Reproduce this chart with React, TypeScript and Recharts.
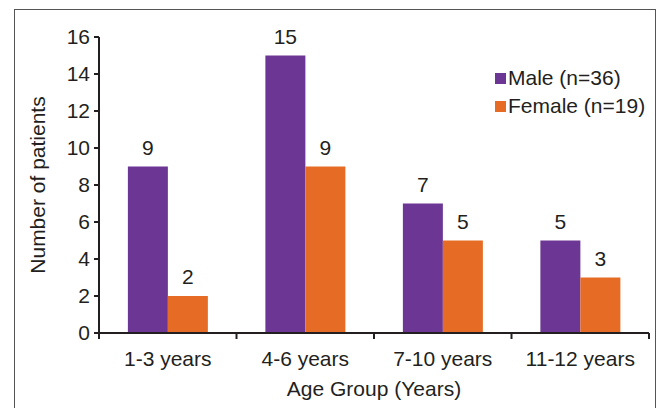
import React from "react";
import { BarChart, Bar, XAxis, YAxis, LabelList } from "recharts";

const categories = ["1-3 years", "4-6 years", "7-10 years", "11-12 years"];
const maleValues = [9, 15, 7, 5];
const femaleValues = [2, 9, 5, 3];
const yTicks = [0, 2, 4, 6, 8, 10, 12, 14, 16];
const seriesNames = { male: "Male (n=36)", female: "Female (n=19)" };

const data = categories.map((c, i) => ({ name: c, male: maleValues[i], female: femaleValues[i] }));

const PURPLE = "#6C3794";
const ORANGE = "#E66C26";
const TEXT = "#231F20";
const FONT = "'Liberation Sans', Arial, sans-serif";
const FS = 21;
const X_TICK_SIZE = 6;
const X_TICK_MARGIN = 12;

const XTick = (props: any) => {
  const { x, y, payload, index } = props;
  const half = payload && typeof payload.offset === "number" && payload.offset > 0 ? payload.offset : 68.75;
  const axisY = y - X_TICK_SIZE - X_TICK_MARGIN;
  return (
    <g>
      <line x1={x - half} x2={x - half} y1={axisY} y2={axisY + X_TICK_SIZE} stroke={TEXT} strokeWidth={2} />
      {index === categories.length - 1 && (
        <line x1={x + half} x2={x + half} y1={axisY} y2={axisY + X_TICK_SIZE} stroke={TEXT} strokeWidth={2} />
      )}
      <text x={x} y={y} dy="0.71em" textAnchor="middle" fill={TEXT} fontSize={FS} fontFamily={FONT}>
        {payload.value}
      </text>
    </g>
  );
};

const LegendBox = () => (
  <div
    style={{
      position: "absolute",
      left: 495,
      top: 64,
      fontFamily: FONT,
      fontSize: FS,
      color: TEXT,
      lineHeight: "28px",
      whiteSpace: "nowrap",
    }}
  >
    {[
      { c: PURPLE, t: seriesNames.male },
      { c: ORANGE, t: seriesNames.female },
    ].map((it) => (
      <div key={it.t} style={{ display: "flex", alignItems: "center", height: 28 }}>
        <span style={{ display: "inline-block", width: 11, height: 11, background: it.c, marginRight: 2 }} />
        <span>{it.t}</span>
      </div>
    ))}
  </div>
);

export default function App() {
  return (
    <div style={{ position: "absolute", left: 0, top: 0, width: 660, height: 408, background: "#fff", overflow: "hidden" }}>
      <div
        style={{
          position: "absolute",
          left: 14,
          top: 9,
          width: 642,
          height: 410,
          border: "1.5px solid #555",
          boxSizing: "border-box",
        }}
      />
      <BarChart
        width={660}
        height={408}
        data={data}
        margin={{ top: 37, right: 11, bottom: 15, left: 0 }}
        barCategoryGap="21%"
        barGap={0}
        style={{ position: "absolute", left: 0, top: 0 }}
      >
        <XAxis
          dataKey="name"
          tick={<XTick />}
          tickLine={false}
          tickSize={X_TICK_SIZE}
          tickMargin={X_TICK_MARGIN}
          height={60}
          axisLine={{ stroke: TEXT, strokeWidth: 2 }}
          interval={0}
          label={{ value: "Age Group (Years)", position: "insideBottom", offset: -3, fill: TEXT, fontSize: FS, fontFamily: FONT }}
        />
        <YAxis
          domain={[0, 16]}
          ticks={yTicks}
          interval={0}
          width={99}
          tickSize={5}
          tickMargin={4}
          tick={{ fill: TEXT, fontSize: FS, fontFamily: FONT }}
          tickLine={{ stroke: TEXT, strokeWidth: 2 }}
          axisLine={{ stroke: TEXT, strokeWidth: 2 }}
          label={{ value: "Number of patients", angle: -90, position: "center", dx: -12, fill: TEXT, fontSize: FS, fontFamily: FONT }}
        />
        <Bar dataKey="male" name={seriesNames.male} fill={PURPLE} isAnimationActive={false}>
          <LabelList dataKey="male" position="top" offset={12} fill={TEXT} fontSize={FS} fontFamily={FONT} />
        </Bar>
        <Bar dataKey="female" name={seriesNames.female} fill={ORANGE} isAnimationActive={false}>
          <LabelList dataKey="female" position="top" offset={12} fill={TEXT} fontSize={FS} fontFamily={FONT} />
        </Bar>
      </BarChart>
      <LegendBox />
    </div>
  );
}
